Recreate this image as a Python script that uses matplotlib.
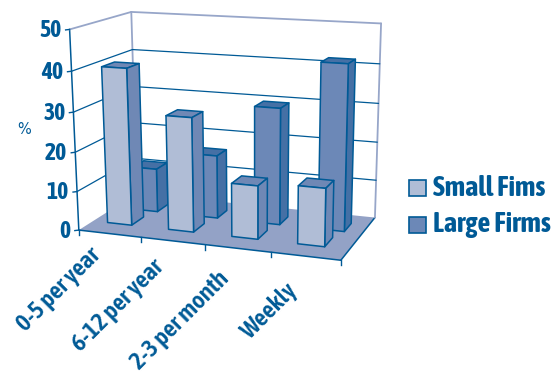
import matplotlib
matplotlib.use("Agg")
import matplotlib.pyplot as plt
from matplotlib.patches import Polygon, Rectangle
import numpy as np

categories = ["0-5 per year", "6-12 per year", "2-3 per month", "Weekly"]
small_firms = [40, 29, 13.5, 14.5]
large_firms = [11.5, 16.5, 30, 42]
y_ticks = [0, 10, 20, 30, 40, 50]

DARK = "#005a96"
FRAME = "#97a6c9"
FLOOR = "#93a2c6"
FONT = ["Asap Condensed", "Liberation Sans"]

# (category, depth, percent) -> pixel reference points for the camera fit
calib_3d = [(0, 0, 0), (4, 0, 0), (0, 1, 0), (4, 1, 0), (0, 0, 50), (0, 1, 50), (4, 1, 50),
            (1, 0, 0), (2, 0, 0), (3, 0, 0)]
calib_px = [(78, 227), (342, 262), (138, 197), (374, 215), (70, 31), (131, 10), (381, 24),
            (140, 236), (204, 245), (272, 253)]


def fit_camera(pts3d, pts2d):
    rows, rhs = [], []
    for (x, y, z), (px, py) in zip(pts3d, pts2d):
        rows.append([x, y, z, 1, 0, 0, 0, 0, -px * x, -px * y, -px * z])
        rows.append([0, 0, 0, 0, x, y, z, 1, -py * x, -py * y, -py * z])
        rhs += [px, py]
    m = np.linalg.lstsq(np.array(rows, float), np.array(rhs, float), rcond=None)[0]
    return np.append(m, 1).reshape(3, 4)


camera = fit_camera(calib_3d, calib_px)


def proj(x, y, z):
    p = camera @ np.array([x, y, z, 1.0])
    return p[0] / p[2], p[1] / p[2]


def face(ax, corners, color, edge=DARK, lw=1.1, z=2):
    ax.add_patch(Polygon([proj(*c) for c in corners], closed=True, facecolor=color,
                         edgecolor=edge, linewidth=lw, joinstyle="round", zorder=z))


def line3d(ax, a, b, color=DARK, lw=0.9, z=1):
    pa, pb = proj(*a), proj(*b)
    ax.plot([pa[0], pb[0]], [pa[1], pb[1]], color=color, lw=lw, zorder=z, solid_capstyle="round")


def bar(ax, x0, x1, y0, y1, h, front, side, top):
    face(ax, [(x0, y1, h), (x1, y1, h), (x1, y0, h), (x0, y0, h)], top)
    face(ax, [(x1, y0, 0), (x1, y1, 0), (x1, y1, h), (x1, y0, h)], side)
    face(ax, [(x0, y0, 0), (x1, y0, 0), (x1, y0, h), (x0, y0, h)], front)


fig = plt.figure(figsize=(5.52, 3.77), dpi=100)
ax = fig.add_axes([0, 0, 1, 1])
ax.set_xlim(0, 552)
ax.set_ylim(377, 0)
ax.axis("off")

# floor and walls
face(ax, [(0, 0, 0), (4, 0, 0), (4, 1, 0), (0, 1, 0)], FLOOR, edge="none", lw=0, z=0)
line3d(ax, (0, 0, 0), (4, 0, 0), lw=1.1)
line3d(ax, (4, 0, 0), (4, 1, 0), lw=1.1)
line3d(ax, (0, 0, 0), (0, 0, 50), lw=1.1)
line3d(ax, (0, 0, 50), (0, 1, 50), color=FRAME, lw=1.3)
line3d(ax, (0, 1, 50), (4, 1, 50), color=FRAME, lw=1.3)
line3d(ax, (0, 1, 50), (0, 1, 0), color=FRAME, lw=1.3)
line3d(ax, (4, 1, 50), (4, 1, 0), color=FRAME, lw=1.3)

for t in y_ticks[1:-1]:
    line3d(ax, (0, 0, t), (0, 1, t))
    line3d(ax, (0, 1, t), (4, 1, t))

for t in y_ticks:
    px, py = proj(0, 0, t)
    ax.plot([px - 4, px], [py + 0.5, py], color=DARK, lw=1.0, zorder=1)
    ax.text(px - 8, py + 1, str(t), ha="right", va="center", color=DARK, fontsize=17,
            fontweight="bold", family=FONT)

for i in range(len(categories) + 1):
    px, py = proj(i, 0, 0)
    ax.plot([px, px], [py, py + 5], color=DARK, lw=1.0, zorder=1)

# back row first so the front row covers it
for i, h in enumerate(large_firms):
    bar(ax, i + 0.33, i + 0.73, 0.6, 0.8, h, "#6c88b7", "#4570a5", "#4570a5")
for i, h in enumerate(small_firms):
    bar(ax, i + 0.24, i + 0.64, 0.23, 0.44, h, "#b0bdd6", "#6f88b5", "#6f88b5")

for i, name in enumerate(categories):
    px, py = proj(i + 0.5, 0, 0)
    ax.text(px - 12, py + 18 + 4.5 * i, name, rotation=45, rotation_mode="anchor", ha="right",
            va="center", color=DARK, fontsize=18, fontweight="600", family=FONT)

ax.text(24, 129, "%", ha="center", va="center", color=DARK, fontsize=10.5)

# legend
for yy, color, name in [(180, "#b0bdd6", "Small Fims"), (217, "#6c88b7", "Large Firms")]:
    ax.add_patch(Rectangle((409, yy), 17, 16, facecolor=color, edgecolor=DARK, linewidth=1.2))
    ax.text(433, yy + 8, name, ha="left", va="center", color=DARK, fontsize=20.3,
            fontweight="bold", family=FONT)

fig.savefig("out.png", dpi=100)
